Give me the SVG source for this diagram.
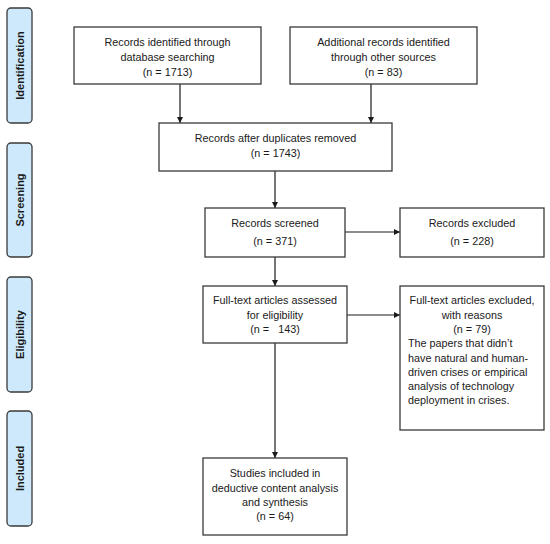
<svg xmlns="http://www.w3.org/2000/svg" width="550" height="544" viewBox="0 0 550 544">
<style>
.box{fill:#fff;stroke:#3a3a3a;stroke-width:1.3}
.side{fill:#cde9fb;stroke:#3a3a3a;stroke-width:1.3}
.t{font-family:"Liberation Sans",Arial,sans-serif;font-size:10.8px;fill:#1a1a1a;text-anchor:middle}
.l{text-anchor:start}
.s{font-family:"Liberation Sans",Arial,sans-serif;font-size:11px;font-weight:bold;fill:#1a1a1a;text-anchor:middle}
.c{stroke:#1a1a1a;stroke-width:1.2;fill:none;marker-end:url(#ah)}
</style>
<defs>
<marker id="ah" markerWidth="6" markerHeight="6" refX="6" refY="3" orient="auto" markerUnits="userSpaceOnUse">
<path d="M0,0 L6,3 L0,6 Z" fill="#1a1a1a"/>
</marker>
</defs>
<rect width="550" height="544" fill="#fff"/>
<g id="side-identification"><rect class="side" x="7" y="8" width="25" height="115" rx="4"/><text class="s" transform="translate(23.5,65.5) rotate(-90)">Identification</text></g>
<g id="side-screening"><rect class="side" x="7" y="143" width="25" height="114" rx="4"/><text class="s" transform="translate(23.5,200) rotate(-90)">Screening</text></g>
<g id="side-eligibility"><rect class="side" x="7" y="277" width="25" height="115" rx="4"/><text class="s" transform="translate(23.5,334.5) rotate(-90)">Eligibility</text></g>
<g id="side-included"><rect class="side" x="7" y="411" width="25" height="115" rx="4"/><text class="s" transform="translate(23.5,468.5) rotate(-90)">Included</text></g>

<g id="connectors">
<path class="c" d="M180,84 V123"/>
<path class="c" d="M371,84 V123"/>
<path class="c" d="M275,171 V208"/>
<path class="c" d="M345,232 H400"/>
<path class="c" d="M275,257 V286"/>
<path class="c" d="M347,315 H400"/>
<path class="c" d="M275,343 V458"/>
</g>

<g id="n-db"><rect class="box" x="74" y="27" width="187" height="57"/>
<text class="t" x="167.5" y="46">Records identified through</text>
<text class="t" x="167.5" y="61">database searching</text>
<text class="t" x="167.5" y="76">(n = 1713)</text></g>
<g id="n-other"><rect class="box" x="290" y="27" width="187" height="57"/>
<text class="t" x="383.5" y="46">Additional records identified</text>
<text class="t" x="383.5" y="61">through other sources</text>
<text class="t" x="383.5" y="76">(n = 83)</text></g>
<g id="n-dup"><rect class="box" x="159" y="123" width="233" height="48"/>
<text class="t" x="275.5" y="142">Records after duplicates removed</text>
<text class="t" x="275.5" y="157">(n = 1743)</text></g>
<g id="n-screened"><rect class="box" x="205" y="208" width="140" height="49"/>
<text class="t" x="275" y="227">Records screened</text>
<text class="t" x="275" y="245">(n = 371)</text></g>
<g id="n-excluded"><rect class="box" x="400" y="208" width="144" height="49"/>
<text class="t" x="472" y="227">Records excluded</text>
<text class="t" x="472" y="245">(n = 228)</text></g>
<g id="n-fulltext"><rect class="box" x="203" y="286" width="144" height="57"/>
<text class="t" x="275" y="304">Full-text articles assessed</text>
<text class="t" x="275" y="319">for eligibility</text>
<text class="t" x="275" y="333" xml:space="preserve">(n =   143)</text></g>
<g id="n-ftexcluded"><rect class="box" x="400" y="286" width="144" height="144"/>
<text class="t" x="472" y="304">Full-text articles excluded,</text>
<text class="t" x="472" y="319">with reasons</text>
<text class="t" x="472" y="333">(n = 79)</text>
<text class="t l" x="408" y="347">The papers that didn’t</text>
<text class="t l" x="408" y="362">have natural and human-</text>
<text class="t l" x="408" y="376">driven crises or empirical</text>
<text class="t l" x="408" y="390">analysis of technology</text>
<text class="t l" x="408" y="404">deployment in crises.</text></g>
<g id="n-included"><rect class="box" x="203" y="458" width="144" height="77"/>
<text class="t" x="275" y="477">Studies included in</text>
<text class="t" x="275" y="492">deductive content analysis</text>
<text class="t" x="275" y="506">and synthesis</text>
<text class="t" x="275" y="520">(n = 64)</text></g>
</svg>
